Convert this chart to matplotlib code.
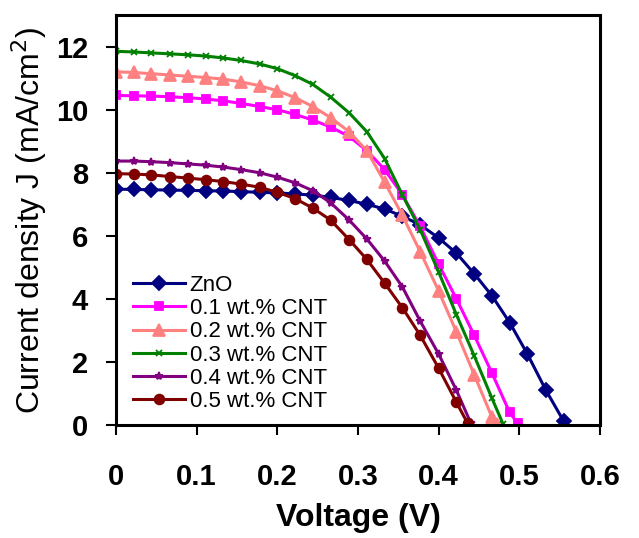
import matplotlib
matplotlib.use('Agg')
import matplotlib.pyplot as plt

# voltage sweep points (V) and current density (mA/cm2)
v_zno = [0, .022, .044, .067, .089, .111, .133, .155, .178, .2, .222, .244, .266,
         .289, .311, .333, .355, .377, .4, .422, .444, .466, .488, .51, .533, .555]
j_zno = [7.48, 7.47, 7.46, 7.45, 7.44, 7.43, 7.42, 7.40, 7.38, 7.36, 7.33, 7.29, 7.22,
         7.12, 7.0, 6.85, 6.62, 6.35, 5.93, 5.45, 4.8, 4.1, 3.25, 2.25, 1.1, 0.12]

v_01 = [0, .022, .044, .067, .089, .111, .133, .155, .178, .2, .222, .244, .266,
        .289, .311, .333, .355, .377, .4, .422, .444, .466, .488, .498]
j_01 = [10.45, 10.44, 10.43, 10.41, 10.38, 10.34, 10.28, 10.2, 10.1, 10.0, 9.85, 9.67, 9.45,
        9.15, 8.7, 8.1, 7.3, 6.3, 5.1, 4.0, 2.85, 1.65, 0.4, 0.05]

v_02 = [0, .022, .044, .067, .089, .111, .133, .155, .178, .2, .222, .244, .266,
        .289, .311, .333, .355, .377, .4, .422, .444, .466, .472]
j_02 = [11.2, 11.18, 11.14, 11.1, 11.06, 11.02, 10.97, 10.88, 10.76, 10.6, 10.38, 10.1, 9.75,
        9.3, 8.7, 7.7, 6.65, 5.5, 4.25, 2.95, 1.6, 0.25, 0.02]

v_03 = [0, .022, .044, .067, .089, .111, .133, .155, .178, .2, .222, .244, .266,
        .289, .311, .333, .355, .377, .4, .422, .444, .466, .48]
j_03 = [11.85, 11.83, 11.8, 11.77, 11.74, 11.7, 11.64, 11.56, 11.45, 11.3, 11.08, 10.8, 10.4,
        9.9, 9.3, 8.45, 7.3, 6.2, 4.85, 3.5, 2.2, 0.85, 0.02]

v_04 = [0, .022, .044, .067, .089, .111, .133, .155, .178, .2, .222, .244, .266,
        .289, .311, .333, .355, .377, .4, .422, .44]
j_04 = [8.37, 8.37, 8.35, 8.32, 8.28, 8.24, 8.18, 8.1, 8.0, 7.86, 7.68, 7.43, 7.05,
        6.5, 5.9, 5.2, 4.38, 3.3, 2.25, 1.1, 0.05]

v_05 = [0, .022, .044, .067, .089, .111, .133, .155, .178, .2, .222, .244, .266,
        .289, .311, .333, .355, .377, .4, .422, .436]
j_05 = [7.97, 7.96, 7.93, 7.88, 7.83, 7.78, 7.72, 7.64, 7.54, 7.38, 7.18, 6.88, 6.5,
        5.88, 5.25, 4.5, 3.72, 2.85, 1.8, 0.72, 0.05]

labels = ['ZnO', '0.1 wt.% CNT', '0.2 wt.% CNT', '0.3 wt.% CNT',
          '0.4 wt.% CNT', '0.5 wt.% CNT']
x_ticks = [0, 0.1, 0.2, 0.3, 0.4, 0.5, 0.6]
x_tick_labels = ['0', '0.1', '0.2', '0.3', '0.4', '0.5', '0.6']
y_ticks = [0, 2, 4, 6, 8, 10, 12]

plt.rcParams['font.family'] = ['Liberation Sans', 'DejaVu Sans']

fig = plt.figure(figsize=(6.39, 5.38), dpi=100)
ax = fig.add_axes([0.1815, 0.21, 0.7575, 0.762])

series = [
    (v_zno, j_zno, '#000080', 'D', 7),
    (v_01, j_01, '#FF00FF', 's', 6),
    (v_02, j_02, '#FF8080', '^', 8),
    (v_03, j_03, '#008000', 'x', 4.5),
    (v_04, j_04, '#800080', '*', 6),
    (v_05, j_05, '#800000', 'o', 7),
]
for (v, j, c, m, ms), lab in zip(series, labels):
    ax.plot(v, j, color=c, marker=m, markersize=ms, lw=2.2, label=lab,
            markeredgewidth=1.3)

ax.set_xlim(0, 0.6)
ax.set_ylim(0, 13)
ax.set_xticks(x_ticks)
ax.set_xticklabels(x_tick_labels)
ax.set_yticks(y_ticks)
for lbl in ax.get_xticklabels() + ax.get_yticklabels():
    lbl.set_fontweight('bold')
    lbl.set_fontsize(21)
ax.tick_params(direction='out', length=7, width=1.5)
ax.tick_params(axis='x', pad=20)
ax.tick_params(axis='y', pad=13)
for s in ax.spines.values():
    s.set_linewidth(2.2)

ax.set_xlabel('Voltage (V)', fontsize=23, fontweight='bold', labelpad=9)
ax.set_ylabel('Current density J (mA/cm$^2$)', fontsize=23, labelpad=5)

ax.legend(loc='upper left', bbox_to_anchor=(0.035, 0.366), frameon=False,
          fontsize=16, handlelength=2.35, labelspacing=0.1, handletextpad=0.2,
          borderpad=0, borderaxespad=0)

fig.savefig('out.png', dpi=100)
